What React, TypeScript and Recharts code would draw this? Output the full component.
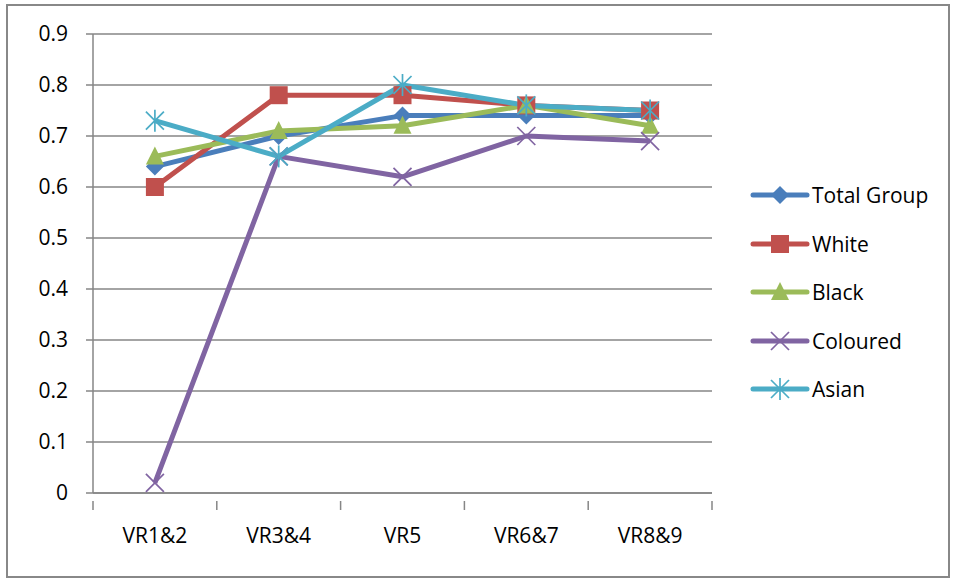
import { LineChart, Line, XAxis, YAxis, CartesianGrid } from "recharts";

const categories = ["VR1&2", "VR3&4", "VR5", "VR6&7", "VR8&9"];
const totalGroup = [0.64, 0.7, 0.74, 0.74, 0.74];
const white = [0.6, 0.78, 0.78, 0.76, 0.75];
const black = [0.66, 0.71, 0.72, 0.76, 0.72];
const coloured = [0.02, 0.66, 0.62, 0.7, 0.69];
const asian = [0.73, 0.66, 0.8, 0.76, 0.75];
const yTicks = [0, 0.1, 0.2, 0.3, 0.4, 0.5, 0.6, 0.7, 0.8, 0.9];

const FONT = "'Open Sans', sans-serif";
const FONT_SIZE = 21;
const AXIS = "#868686";

type Shape = "diamond" | "square" | "triangle" | "x" | "star";

const seriesList: { key: string; name: string; color: string; shape: Shape }[] = [
  { key: "total", name: "Total Group", color: "#4A7EBB", shape: "diamond" },
  { key: "white", name: "White", color: "#C0504D", shape: "square" },
  { key: "black", name: "Black", color: "#9BBB59", shape: "triangle" },
  { key: "coloured", name: "Coloured", color: "#8064A2", shape: "x" },
  { key: "asian", name: "Asian", color: "#4BACC6", shape: "star" },
];

const chartData = categories.map((cat, i) => ({
  cat,
  total: totalGroup[i],
  white: white[i],
  black: black[i],
  coloured: coloured[i],
  asian: asian[i],
}));

const Marker = ({ cx, cy, shape, color }: { cx: number; cy: number; shape: Shape; color: string }) => {
  if (cx == null || cy == null) return null;
  switch (shape) {
    case "diamond":
      return <polygon points={`${cx},${cy - 9} ${cx + 9},${cy} ${cx},${cy + 9} ${cx - 9},${cy}`} fill={color} />;
    case "square":
      return <rect x={cx - 9} y={cy - 9} width={18} height={18} fill={color} />;
    case "triangle":
      return <polygon points={`${cx},${cy - 10} ${cx + 9},${cy + 8} ${cx - 9},${cy + 8}`} fill={color} />;
    case "x":
      return (
        <g stroke={color} strokeWidth={1.7}>
          <line x1={cx - 9} y1={cy - 9} x2={cx + 9} y2={cy + 9} />
          <line x1={cx - 9} y1={cy + 9} x2={cx + 9} y2={cy - 9} />
        </g>
      );
    case "star":
      return (
        <g stroke={color} strokeWidth={1.7}>
          <line x1={cx - 9} y1={cy - 9} x2={cx + 9} y2={cy + 9} />
          <line x1={cx - 9} y1={cy + 9} x2={cx + 9} y2={cy - 9} />
          <line x1={cx} y1={cy - 11} x2={cx} y2={cy + 11} />
        </g>
      );
  }
  return null;
};

const PLOT_WIDTH = 955 - 243 - 93;
const BAND = PLOT_WIDTH / categories.length;

const CategoryTick = ({ x, y, payload, index }: any) => {
  const left = x - BAND / 2;
  return (
    <g>
      <line x1={left} y1={y} x2={left} y2={y + 9} stroke={AXIS} strokeWidth={1.5} />
      {index === categories.length - 1 && (
        <line x1={x + BAND / 2} y1={y} x2={x + BAND / 2} y2={y + 9} stroke={AXIS} strokeWidth={1.5} />
      )}
      <text x={x} y={y + 42} textAnchor="middle" fontSize={FONT_SIZE} fill="#000" fontFamily={FONT}>
        {payload.value}
      </text>
    </g>
  );
};

const ChartLegend = () => (
  <div style={{ position: "absolute", left: 750, top: 171, fontFamily: FONT, fontSize: FONT_SIZE, color: "#000" }}>
    {seriesList.map((s) => (
      <div key={s.key} style={{ display: "flex", alignItems: "center", height: 48.5 }}>
        <svg width={60} height={24} style={{ marginRight: 2 }}>
          <line x1={3} y1={12} x2={57} y2={12} stroke={s.color} strokeWidth={5} strokeLinecap="round" />
          <Marker cx={30} cy={12} shape={s.shape} color={s.color} />
        </svg>
        <span>{s.name}</span>
      </div>
    ))}
  </div>
);

export default function App() {
  return (
    <div style={{ position: "absolute", left: 0, top: 0, width: 955, height: 578, background: "#fff" }}>
      <div
        style={{
          position: "absolute",
          left: 6,
          top: 4,
          width: 940,
          height: 570,
          border: "2px solid #888",
        }}
      />
      <LineChart
        width={955}
        height={578}
        data={chartData}
        margin={{ top: 34, right: 243, left: 33, bottom: 35 }}
        style={{ position: "absolute", left: 0, top: 0 }}
      >
        <CartesianGrid vertical={false} stroke={AXIS} strokeWidth={1.5} />
        <XAxis
          dataKey="cat"
          height={50}
          stroke={AXIS}
          strokeWidth={1.5}
          tickLine={false}
          tick={<CategoryTick />}
          interval={0}
          padding={{ left: BAND / 2, right: BAND / 2 }}
        />
        <YAxis
          width={60}
          domain={[0, 0.9]}
          ticks={yTicks}
          interval={0}
          stroke={AXIS}
          strokeWidth={1.5}
          tickSize={7}
          tickMargin={18}
          tick={{ fill: "#000", fontSize: FONT_SIZE, fontFamily: FONT }}
          tickFormatter={(v: number) => String(Math.round(v * 10) / 10)}
        />
        {seriesList.map((s) => (
          <Line
            key={s.key}
            dataKey={s.key}
            name={s.name}
            stroke={s.color}
            strokeWidth={5}
            strokeLinejoin="round"
            isAnimationActive={false}
            dot={(p: any) => <Marker key={`${s.key}-${p.index}`} cx={p.cx} cy={p.cy} shape={s.shape} color={s.color} />}
            activeDot={false}
          />
        ))}
      </LineChart>
      <ChartLegend />
    </div>
  );
}
